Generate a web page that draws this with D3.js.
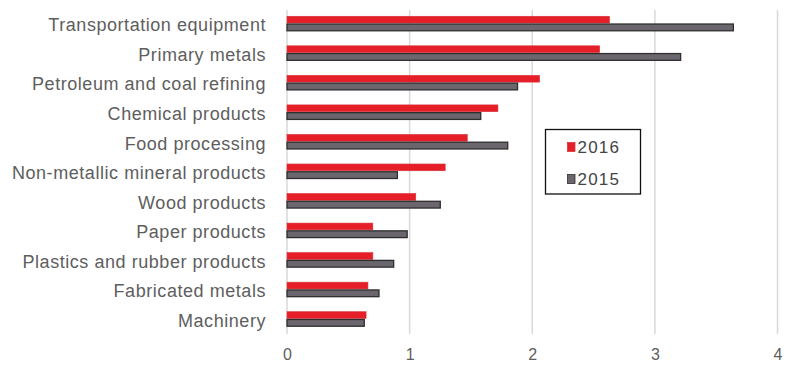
<!DOCTYPE html>
<html>
<head>
<meta charset="utf-8">
<script src="https://cdn.jsdelivr.net/npm/d3@7"></script>
<style>
  html, body { margin: 0; padding: 0; background: #fff; }
  svg { display: block; font-family: "Liberation Sans", Arial, Helvetica, sans-serif; }
</style>
</head>
<body>
<svg id="chart" width="791" height="365"></svg>
<script>
// Industry categories, top to bottom
const categories = [
  "Transportation equipment",
  "Primary metals",
  "Petroleum and coal refining",
  "Chemical products",
  "Food processing",
  "Non-metallic mineral products",
  "Wood products",
  "Paper products",
  "Plastics and rubber products",
  "Fabricated metals",
  "Machinery"
];
const series = ["2016", "2015"];
const values2016 = [2.63, 2.55, 2.06, 1.72, 1.47, 1.29, 1.05, 0.70, 0.70, 0.66, 0.645];
const values2015 = [3.64, 3.21, 1.88, 1.58, 1.80, 0.90, 1.25, 0.98, 0.87, 0.75, 0.63];
const xTicks = [0, 1, 2, 3, 4];

const fills = { "2016": "#e61e28", "2015": "#6b666d" };
const strokes = { "2016": "#d8333a", "2015": "#2e2e2e" };

const svg = d3.select("#chart");
const W = 791;

const x = d3.scaleLinear().domain([0, 4]).range([287, W - 13.5]);
const y = d3.scaleBand().domain(categories).range([8.75, 333.75]).paddingInner(0.475).paddingOuter(0.2375);
const ySub = d3.scaleBand().domain(series).range([0, y.bandwidth()]);

// vertical gridlines
svg.append("g")
  .selectAll("line")
  .data(xTicks)
  .join("line")
  .attr("x1", d => x(d)).attr("x2", d => x(d))
  .attr("y1", 10).attr("y2", 334)
  .attr("stroke", "#d9d9d9")
  .attr("stroke-width", 1.5);

// bars
const rows = categories.map((c, i) => ({ c, "2016": values2016[i], "2015": values2015[i] }));
const groups = svg.append("g").selectAll("g")
  .data(rows)
  .join("g")
  .attr("transform", d => `translate(0,${y(d.c)})`);

groups.selectAll("rect")
  .data(d => series.map(s => ({ s, v: d[s] })))
  .join("rect")
  .attr("x", x(0))
  .attr("y", d => ySub(d.s) + 0.5)
  .attr("width", d => x(d.v) - x(0))
  .attr("height", ySub.bandwidth() - 1)
  .attr("fill", d => fills[d.s])
  .attr("stroke", d => strokes[d.s])
  .attr("stroke-width", d => d.s === "2015" ? 1.3 : 0.6);

// category axis labels
svg.append("g")
  .selectAll("text")
  .data(categories)
  .join("text")
  .attr("x", 266)
  .attr("y", d => y(d) + y.bandwidth() / 2 + 1.5)
  .attr("dy", "0.35em")
  .attr("text-anchor", "end")
  .attr("fill", "#5e5e5e")
  .attr("font-size", 18)
  .attr("letter-spacing", 0.55)
  .text(d => d);

// value axis labels
const xAxis = d3.axisBottom(x).tickValues(xTicks).tickFormat(d3.format("d")).tickSize(0).tickPadding(0);
const gx = svg.append("g").attr("transform", "translate(0,360)").call(xAxis);
gx.select(".domain").remove();
gx.selectAll("text")
  .attr("dy", "0")
  .attr("font-size", 16)
  .attr("font-family", "Liberation Sans, Arial, sans-serif")
  .attr("fill", "#5e5e5e");

// legend
const lg = svg.append("g");
lg.append("rect")
  .attr("x", 545.5).attr("y", 129.5).attr("width", 95).attr("height", 64.5)
  .attr("fill", "#fff").attr("stroke", "#111").attr("stroke-width", 1.3);
const items = lg.selectAll("g.item").data(series).join("g")
  .attr("class", "item")
  .attr("transform", (d, i) => `translate(567.5,${147 + i * 32})`);
items.append("rect")
  .attr("x", 0).attr("y", -4.5).attr("width", 7.5).attr("height", 9)
  .attr("fill", d => fills[d]).attr("stroke", d => strokes[d]).attr("stroke-width", 0.8);
items.append("text")
  .attr("x", 10).attr("y", 0).attr("dy", "0.35em")
  .attr("fill", "#444").attr("font-size", 17)
  .attr("letter-spacing", 1.2)
  .text(d => d);
</script>
</body>
</html>
